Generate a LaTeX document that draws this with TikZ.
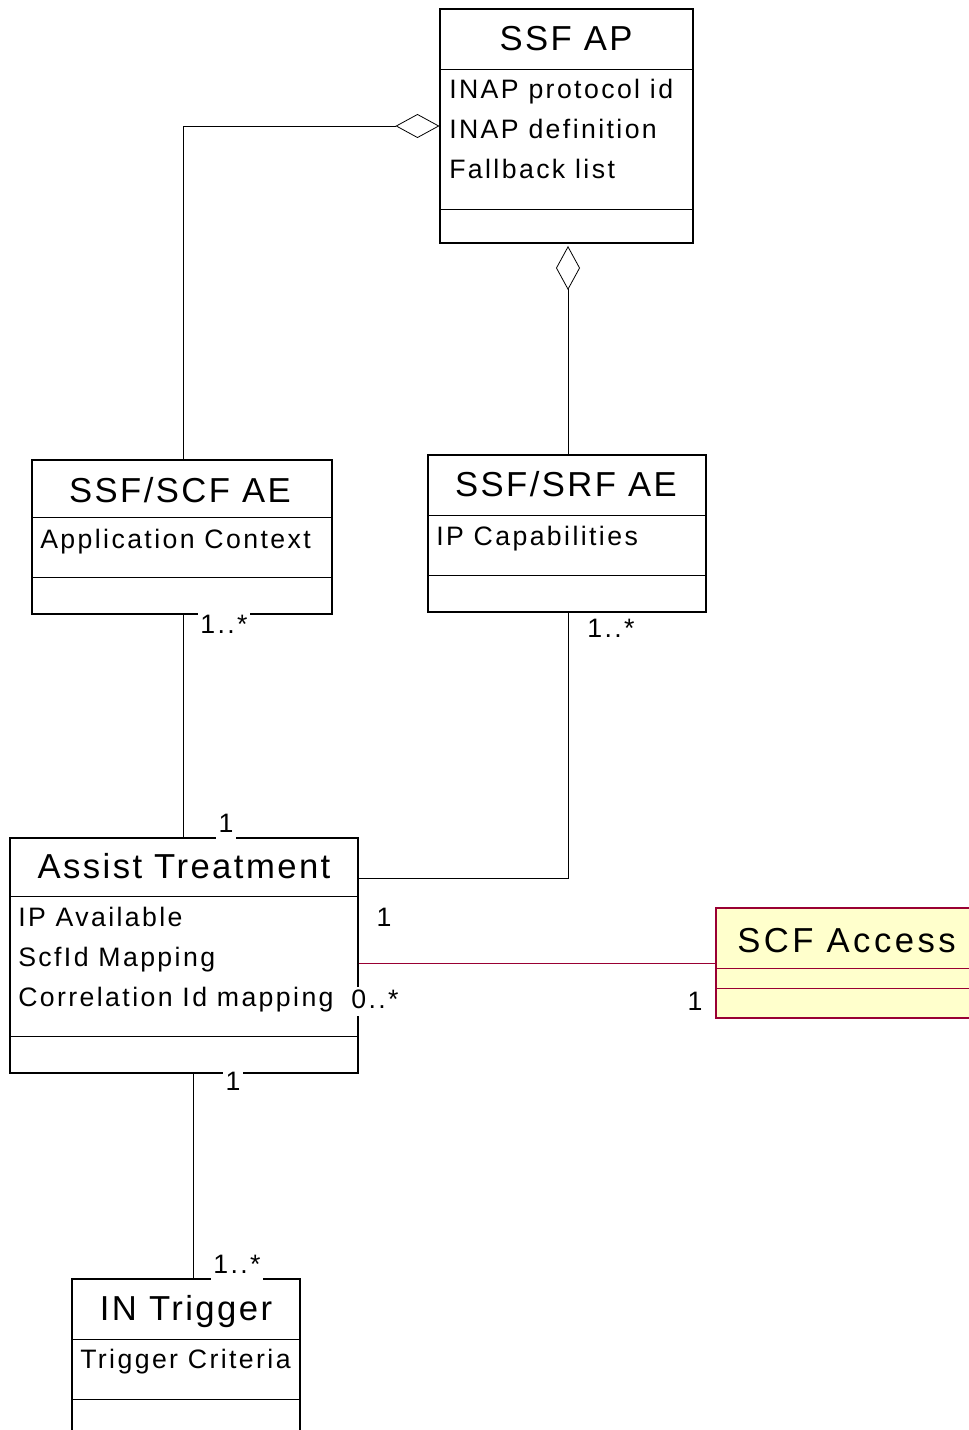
\documentclass[tikz,border=0pt]{standalone}
\usepackage{fontspec}
\setmainfont{Liberation Sans}
\newfontfamily\ttlfont[LetterSpace=7]{Liberation Sans}
\newfontfamily\ttlwfont[LetterSpace=10]{Liberation Sans}
\newfontfamily\atrfont[LetterSpace=9]{Liberation Sans}
\usetikzlibrary{fit,arrows.meta}
\definecolor{accline}{RGB}{153,0,51}
\definecolor{accfill}{RGB}{255,255,204}
\begin{document}
\begin{tikzpicture}[x=0.75pt,y=-0.75pt,
  cls/.style={draw=black, line width=0.8pt, inner sep=0pt, fill=white},
  acc/.style={draw=accline, line width=0.8pt, inner sep=0pt, fill=accfill},
  ttl/.style={font=\ttlfont\fontsize{26}{30}\selectfont, inner sep=0pt, anchor=base},
  ttlw/.style={font=\ttlwfont\fontsize{26}{30}\selectfont, inner sep=0pt, anchor=base west},
  atr/.style={font=\atrfont\fontsize{20}{24}\selectfont, inner sep=0pt, anchor=base west},
  mult/.style={font=\atrfont\fontsize{20}{24}\selectfont, fill=white, inner sep=2pt,
               text height=14pt, text depth=4pt, anchor=base},
  conn/.style={draw=black, line width=0.6pt},
  agg/.style={conn, {Diamond[open,length=33pt,width=18pt]}-},
  sep/.style={line width=0.6pt}]
\clip (0,0) rectangle (969,1430);
\fill[white] (0,0) rectangle (969,1430);

% ---- class boxes ----
\node[cls, fit={(440,9) (693,243)}] (ap) {};
\draw[sep] (440,69) -- (693,69);
\draw[sep] (440,209) -- (693,209);
\node[ttl] (apT) at (566,51) {SSF AP};
\node[atr] (apA1) at (449,99) {INAP protocol id};
\node[atr] (apA2) at (449,139) {INAP definition};
\node[atr] (apA3) at (449,179) {Fallback list};

\node[cls, fit={(32,460) (332,614)}] (scf) {};
\draw[sep] (32,517) -- (332,517);
\draw[sep] (32,577) -- (332,577);
\node[ttl] (scfT) at (180,502) {SSF/SCF AE};
\node[atr] (scfA1) at (40,548) {Application Context};

\node[cls, fit={(428,455) (706,612)}] (srf) {};
\draw[sep] (428,515) -- (706,515);
\draw[sep] (428,575) -- (706,575);
\node[ttl] (srfT) at (566,496) {SSF/SRF AE};
\node[atr] (srfA1) at (436,545) {IP Capabilities};

\node[cls, fit={(10,838) (358,1073)}] (at) {};
\draw[sep] (10,896) -- (358,896);
\draw[sep] (10,1036) -- (358,1036);
\node[ttl] (atT) at (184,878) {Assist Treatment};
\node[atr] (atA1) at (18,926) {IP Available};
\node[atr] (atA2) at (18,966) {ScfId Mapping};
\node[atr] (atA3) at (18,1006) {Correlation Id mapping};

\node[acc, fit={(716,908) (985,1018)}] (sa) {};
\draw[sep, accline] (716,968) -- (985,968);
\draw[sep, accline] (716,988) -- (985,988);
\node[ttlw] (saT) at (737,952) {SCF Access};

\node[cls, fit={(72,1279) (300,1445)}] (trig) {};
\draw[sep] (72,1339) -- (300,1339);
\draw[sep] (72,1399) -- (300,1399);
\node[ttl] (trigT) at (186,1320) {IN Trigger};
\node[atr] (trigA1) at (80,1368) {Trigger Criteria};

% ---- connectors ----
\coordinate (scfTop) at (183,460);
\draw[agg] (ap.west) -| (scfTop);
\coordinate (apBot) at (568,246);
\draw[agg] (apBot) -- (apBot |- srf.north);
\coordinate (scfBot) at (183,614);
\draw[conn] (scfBot) -- (scfBot |- at.north);
\coordinate (srfBot) at (568,612);
\coordinate (atR) at (358,878);
\draw[conn] (srfBot) |- (atR);
\draw[conn, accline] (at.east |- sa.west) -- (sa.west);
\coordinate (atB) at (193,1073);
\draw[conn] (atB) -- (atB |- trig.north);

% ---- multiplicities ----
\node[mult] (m1) at (224,633) {1..*};
\node[mult] (m2) at (226,832) {1};
\node[mult] (m3) at (611,637) {1..*};
\node[mult] (m4) at (384,926) {1};
\node[mult] (m5) at (375,1008) {0..*};
\node[mult] (m6) at (695,1010) {1};
\node[mult] (m7) at (233,1090) {1};
\node[mult] (m8) at (237,1273) {1..*};
\end{tikzpicture}
\end{document}
